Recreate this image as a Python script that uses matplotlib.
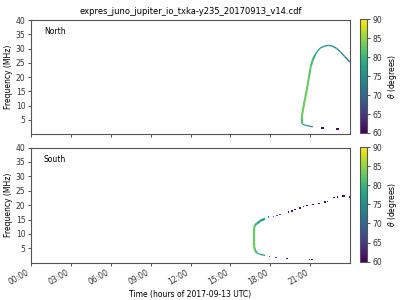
import numpy as np
import matplotlib
matplotlib.use("Agg")
import matplotlib.pyplot as plt
from matplotlib.collections import LineCollection
from matplotlib.colors import Normalize
from matplotlib.ticker import FuncFormatter

title = "expres_juno_jupiter_io_txka-y235_20170913_v14.cdf"
xlabel = "Time (hours of 2017-09-13 UTC)"
ylabel = "Frequency (MHz)"
cbar_label = r"$\theta$ (degrees)"
hemispheres = ["North", "South"]

# North hemisphere: rising branch (hours, MHz, theta deg)
north_rise_t = [20.40, 20.37, 20.42, 20.58, 20.75, 20.90, 21.05, 21.20, 21.38]
north_rise_f = [3.6, 5.6, 7.4, 11.5, 15.5, 19.6, 23.7, 26.0, 27.8]
north_rise_th = [80, 83, 83, 83, 83, 83, 82, 80, 79]
# North top and descending branch
north_top_t = [21.38, 21.55, 21.75, 22.05, 22.38, 22.70, 23.00, 23.26, 23.60, 24.00]
north_top_f = [27.8, 29.1, 30.1, 30.8, 31.1, 30.8, 30.0, 28.9, 27.2, 25.2]
north_top_th = [79, 78, 77.5, 76.5, 76, 75, 74.5, 74, 73.5, 73]
# North low-frequency tail
north_tail_t = [20.40, 20.55, 20.75, 21.0, 21.2]
north_tail_f = [3.6, 3.2, 3.0, 2.7, 2.5]
north_tail_th = [79, 77, 75, 74, 73]
# North isolated cells
north_dot_t = [21.9, 21.95, 23.0, 23.1]
north_dot_f = [2.1, 2.1, 1.75, 1.75]
north_dot_th = [61, 61, 61, 61]

# South hemisphere: vertical core and bends
south_arc_t = [16.99, 16.86, 16.79, 16.77, 16.77, 16.79, 16.85, 16.99, 17.24, 17.61]
south_arc_f = [3.4, 4.3, 5.5, 7.5, 10.0, 12.2, 13.0, 13.6, 14.5, 15.3]
south_arc_th = [80, 82, 83, 83, 83, 83, 81, 79, 77, 76]
south_low_t = [16.99, 17.24, 17.61]
south_low_f = [3.4, 2.9, 2.5]
south_low_th = [80, 77, 76]
# South isolated cells
south_dot_t = [17.86, 18.24, 18.49, 18.74, 19.37, 19.62, 19.87, 20.25, 20.50, 20.75,
               21.20, 21.68, 22.13, 22.30, 22.81, 23.06, 23.46, 23.55, 24.00,
               17.94, 18.44, 19.25, 19.30, 20.95, 21.15]
south_dot_f = [15.8, 16.1, 16.4, 16.8, 17.6, 18.0, 18.5, 19.1, 19.5, 19.9,
               20.2, 20.5, 21.0, 21.2, 22.6, 22.8, 23.2, 23.2, 22.9,
               2.1, 1.8, 1.4, 1.4, 1.1, 1.1]
south_dot_th = [74, 72, 69, 66, 61, 61, 61, 61, 61, 61,
                61, 61, 61, 61, 61, 61, 61, 61, 61,
                74, 67, 61, 61, 61, 61]

tick_hours = [0, 3, 6, 9, 12, 15, 18, 21]

plt.rcParams['font.family'] = ['DejaVu Sans']
plt.rcParams['font.size'] = 5.5

cmap = plt.get_cmap('viridis')
norm = Normalize(60, 90)

fig = plt.figure(figsize=(4, 3), dpi=100)
ax1 = fig.add_axes([0.0775, 0.5533, 0.7975, 0.38])
ax2 = fig.add_axes([0.0775, 0.1243, 0.7975, 0.384])
cax1 = fig.add_axes([0.9, 0.5567, 0.0167, 0.3787])
cax2 = fig.add_axes([0.9, 0.128, 0.0167, 0.3817])


def draw_line(ax, t, f, th, lw=1.3):
    pts = np.column_stack([t, f]).reshape(-1, 1, 2)
    segs = np.concatenate([pts[:-1], pts[1:]], axis=1)
    th = np.asarray(th, dtype=float)
    vals = 0.5 * (th[:-1] + th[1:])
    lc = LineCollection(segs, cmap=cmap, norm=norm, linewidths=lw, capstyle='butt')
    lc.set_array(vals)
    ax.add_collection(lc)


def draw_dots(ax, t, f, th):
    ax.scatter(t, f, c=th, cmap=cmap, norm=norm, marker='s', s=1.4, linewidths=0)


draw_line(ax1, north_rise_t, north_rise_f, north_rise_th, lw=1.5)
draw_line(ax1, north_top_t, north_top_f, north_top_th, lw=1.0)
draw_line(ax1, north_tail_t, north_tail_f, north_tail_th, lw=0.9)
draw_dots(ax1, north_dot_t, north_dot_f, north_dot_th)

draw_line(ax2, south_arc_t, south_arc_f, south_arc_th, lw=1.6)
draw_line(ax2, south_low_t, south_low_f, south_low_th, lw=0.9)
draw_dots(ax2, south_dot_t, south_dot_f, south_dot_th)

fmt = FuncFormatter(lambda v, p: "%02d:00" % int(round(v)))
for ax, cax, name in zip([ax1, ax2], [cax1, cax2], hemispheres):
    ax.set_xlim(0, 24)
    ax.set_ylim(0, 40)
    ax.set_yticks([5, 10, 15, 20, 25, 30, 35, 40])
    ax.set_xticks(tick_hours)
    ax.xaxis.set_major_formatter(fmt)
    ax.set_ylabel(ylabel, fontsize=5.5, labelpad=2)
    ax.tick_params(labelsize=5.5, length=2.5, width=0.6, pad=1.5, colors='#333333')
    for sp in ax.spines.values():
        sp.set_color('#555555')
        sp.set_linewidth(0.8)
    ax.text(0.04, 0.9, name, transform=ax.transAxes, fontsize=5.5, va='center')
    sm = plt.cm.ScalarMappable(norm=norm, cmap=cmap)
    cb = fig.colorbar(sm, cax=cax)
    cb.set_ticks([60, 65, 70, 75, 80, 85, 90])
    cb.set_label(cbar_label, fontsize=5.5, labelpad=3)
    cb.ax.tick_params(labelsize=5.5, length=2.5, width=0.6, pad=1.5, colors='#333333')
    cb.outline.set_edgecolor('#555555')
    cb.outline.set_linewidth(0.8)

ax1.tick_params(labelbottom=False)
for lab in ax2.get_xticklabels():
    lab.set_rotation(30)
    lab.set_ha('right')
ax2.set_xlabel(xlabel, fontsize=5.5, labelpad=2)
ax1.set_title(title, fontsize=6.0, pad=4)

fig.savefig("out.png", dpi=100)
